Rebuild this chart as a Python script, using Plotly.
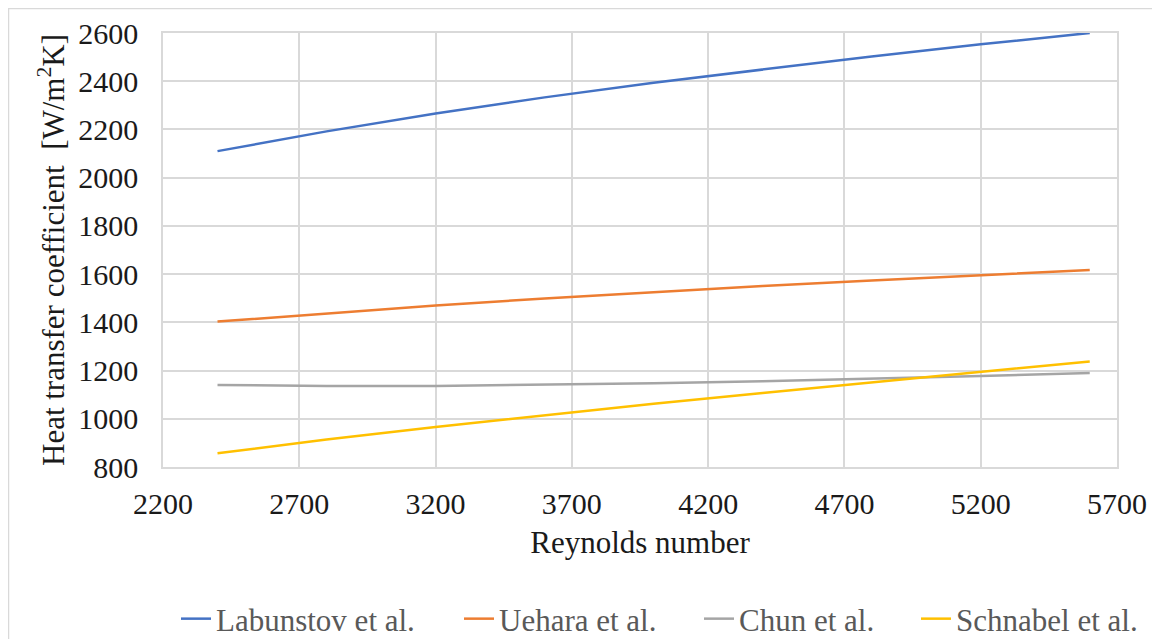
import plotly.graph_objects as go

reynolds = [2400, 2800, 3200, 3600, 4000, 4400, 4800, 5200, 5600]
labunstov = [2110, 2192, 2266, 2333, 2394, 2450, 2503, 2553, 2600]
uehara = [1403, 1438, 1470, 1499, 1526, 1551, 1574, 1596, 1617]
chun = [1140, 1136, 1136, 1140, 1147, 1156, 1166, 1177, 1190]
schnabel = [857, 914, 966, 1015, 1062, 1107, 1150, 1194, 1238]

series_names = ["Labunstov et al.", "Uehara et al.", "Chun et al.", "Schnabel et al."]
series_values = [labunstov, uehara, chun, schnabel]
series_colors = ["#4472C4", "#ED7D31", "#A5A5A5", "#FFC000"]

FONT = "Liberation Serif"
TXT = "#1a1a1a"

# layout geometry (figure is offset 8px by the page body margin)
W, H = 1152, 631
ML, MR, MT, MB = 155, 43, 25, 172
PW, PH = W - ML - MR, H - MT - MB

# legend item starting positions (screen px)
legend_x_px = [176, 459, 699, 916]
legend_keys = ["legend", "legend2", "legend3", "legend4"]

fig = go.Figure()
for name, vals, col, lk in zip(series_names, series_values, series_colors, legend_keys):
    fig.add_trace(go.Scatter(x=reynolds, y=vals, mode="lines", name=name,
                             line=dict(color=col, width=2.5), legend=lk))

grid = "#d9d9d9"
legend_layouts = {}
for lk, px in zip(legend_keys, legend_x_px):
    legend_layouts[lk] = dict(
        orientation="h", x=(px - 8 - ML) / PW, xanchor="left",
        y=(467 - 619) / PH, yanchor="middle",
        font=dict(family=FONT, size=31, color="#595959"),
        bgcolor="rgba(0,0,0,0)", borderwidth=0)

fig.update_layout(
    width=W, height=H,
    margin=dict(l=ML, r=MR, t=MT, b=MB, autoexpand=False),
    paper_bgcolor="white", plot_bgcolor="white",
    font=dict(family=FONT, size=30, color=TXT),
    showlegend=True,
    xaxis=dict(range=[2200, 5700], tick0=2200, dtick=500, showgrid=True,
               gridcolor=grid, gridwidth=1.5, showline=True, linecolor=grid, linewidth=1.5,
               mirror=True, zeroline=False, ticks="", ticklabelstandoff=9,
               tickfont=dict(family=FONT, size=30, color=TXT),
               title=dict(text="Reynolds number", standoff=13,
                          font=dict(family=FONT, size=31, color=TXT))),
    yaxis=dict(range=[800, 2600], tick0=800, dtick=200, showgrid=True,
               gridcolor=grid, gridwidth=1.5, showline=True, linecolor=grid, linewidth=1.5,
               mirror=True, zeroline=False, ticks="", ticklabelstandoff=17,
               tickfont=dict(family=FONT, size=30, color=TXT),
               title=dict(text="Heat transfer coefficient  [W/m<sup>2</sup>K]", standoff=4,
                          font=dict(family=FONT, size=31, color=TXT))),
    **legend_layouts,
)

fig.add_shape(type="rect", xref="paper", yref="paper",
              x0=(0.5 - ML) / PW, x1=(W + 20 - ML) / PW,
              y0=-(MB + 20) / PH, y1=1 + (MT - 0.5) / PH,
              line=dict(color="#d9d9d9", width=1.5), layer="below")

fig.write_html("out.html")
